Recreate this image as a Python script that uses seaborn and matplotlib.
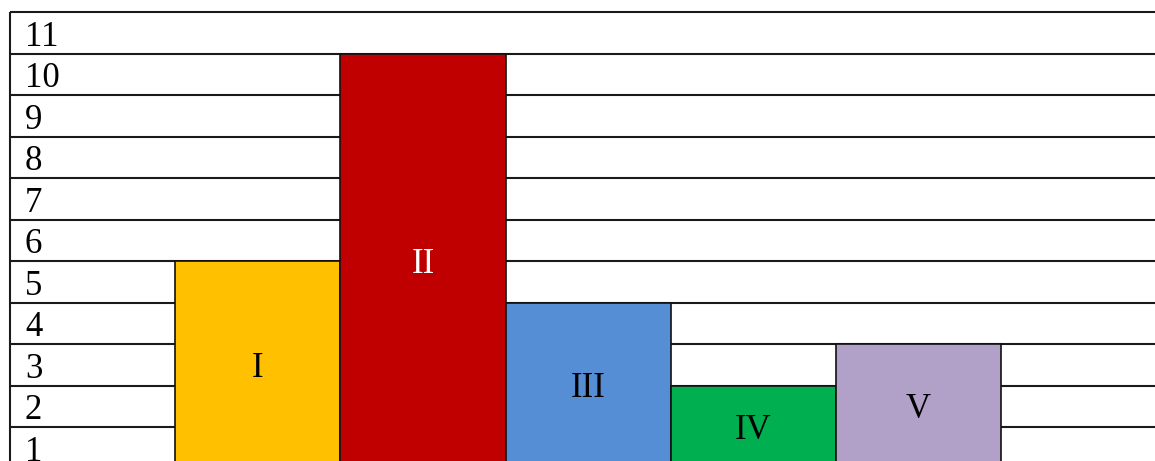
import numpy as np
import pandas as pd
import seaborn as sns
import matplotlib.pyplot as plt

# data
categories = ["I", "II", "III", "IV", "V"]
values = [5, 10, 4, 2, 3]
bar_colors = ["#FFC000", "#C00000", "#558ED5", "#00B050", "#B1A0C7"]
label_colors = ["black", "white", "black", "black", "black"]
row_labels = [str(i) for i in range(1, 12)]

sns.set_style("white")
plt.rcParams['font.family'] = ['Liberation Serif', 'DejaVu Serif']

df = pd.DataFrame({"category": categories, "value": values})

fig = plt.figure(figsize=(11.55, 4.61), dpi=100)
ax = fig.add_axes([0, 0, 1, 1])

# grid rows (behind the bars)
ax.hlines(np.arange(1, 12), -1.5, 6, colors="#1a1a1a", linewidth=1.5, zorder=0)
ax.vlines(-1.5, 0, 11, colors="#1a1a1a", linewidth=1.5, zorder=0)

sns.barplot(data=df, x="category", y="value", hue="category", palette=bar_colors,
            legend=False, width=1.0, saturation=1, edgecolor="#111111",
            linewidth=1.2, ax=ax, zorder=2)

# row numbers in the left column
for i, lab in enumerate(row_labels):
    ax.text(-1.5 + 15 / 165.4, i + 0.19, lab, fontsize=25, ha="left",
            va="baseline", color="black")

# roman numerals in the middle of each bar
for i, (cat, v) in enumerate(zip(categories, values)):
    ax.text(i, v / 2 - 0.08, cat, fontsize=25, ha="center", va="center",
            color=label_colors[i], zorder=3)

ax.set_xlim(-1.5605, 5.431)
ax.set_ylim(0.18, 11.30)
ax.set_axis_off()

fig.savefig("out.png", dpi=100)
